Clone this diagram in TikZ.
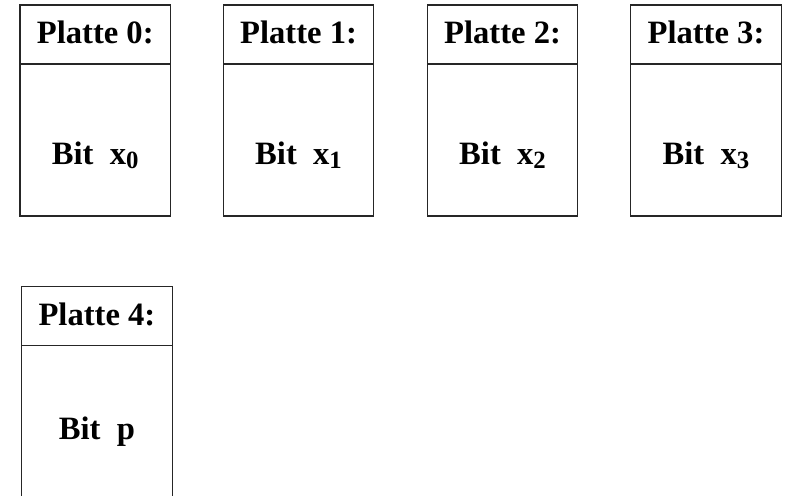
\documentclass[tikz,border=0pt]{standalone}
\usepackage{fontspec}
\setmainfont{Liberation Serif}
\usetikzlibrary{calc}
\newcommand{\Sub}[1]{\raisebox{-1.7pt}{\fontsize{12.4}{14}\selectfont #1}}
\tikzset{
  kopf/.style={draw=black!85,line width=0.55pt,outer sep=0pt,inner sep=0pt,
    minimum width=75.25pt,minimum height=29.5pt,text depth=2.2pt,
    font=\fontsize{16.3}{19}\selectfont\bfseries},
  rumpf/.style={draw=black!85,line width=0.55pt,outer sep=0pt,inner sep=0pt,
    minimum width=75.25pt,minimum height=76pt},
  bit/.style={anchor=base,inner sep=0pt,font=\fontsize{16.3}{19}\selectfont\bfseries}
}
\begin{document}
\begin{tikzpicture}[x=0.5pt,y=-0.5pt]
  \useasboundingbox (0,0) rectangle (785,496);
  % obere Reihe: Datenplatten
  \foreach \i/\x in {0/20,1/223.3,2/427.3,3/630.7}
  {
    \node[kopf,anchor=north west] (kopf\i) at (\x,5) {Platte \i:};
    \node[rumpf,anchor=north] (rumpf\i) at (kopf\i.south) {};
    \node[bit] (bit\i) at ($(rumpf\i.north)+(0,101)$) {Bit~~x\Sub{\i}};
  }
  % Paritaetsplatte
  \node[kopf,anchor=north west] (kopf4) at (21.7,286.7) {Platte 4:};
  \node[rumpf,anchor=north] (rumpf4) at (kopf4.south) {};
  \node[bit] (bit4) at ($(rumpf4.north)+(0,93.7)$) {Bit~~p};
\end{tikzpicture}
\end{document}
